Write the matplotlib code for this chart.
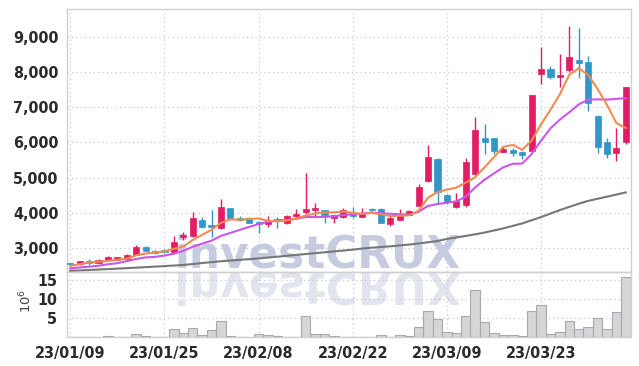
import numpy as np
import matplotlib
matplotlib.use("Agg")
import matplotlib.pyplot as plt
from matplotlib import font_manager
from matplotlib.textpath import TextPath
from matplotlib.patches import PathPatch
from matplotlib.transforms import Affine2D
from matplotlib.font_manager import FontProperties

# trading days (yy/mm/dd)
dates = ["23/01/09", "23/01/10", "23/01/11", "23/01/12", "23/01/13", "23/01/16", "23/01/17", "23/01/18",
         "23/01/19", "23/01/20", "23/01/25", "23/01/26", "23/01/27", "23/01/30", "23/01/31", "23/02/01",
         "23/02/02", "23/02/03", "23/02/06", "23/02/07", "23/02/08", "23/02/09", "23/02/10", "23/02/13",
         "23/02/14", "23/02/15", "23/02/16", "23/02/17", "23/02/20", "23/02/21", "23/02/22", "23/02/23",
         "23/02/24", "23/02/27", "23/02/28", "23/03/02", "23/03/03", "23/03/06", "23/03/07", "23/03/08",
         "23/03/09", "23/03/10", "23/03/13", "23/03/14", "23/03/15", "23/03/16", "23/03/17", "23/03/20",
         "23/03/21", "23/03/22", "23/03/23", "23/03/24", "23/03/27", "23/03/28", "23/03/29", "23/03/30",
         "23/03/31", "23/04/03", "23/04/04", "23/04/05"]
tick_dates = ["23/01/09", "23/01/25", "23/02/08", "23/02/22", "23/03/09", "23/03/23"]

opens = [2550, 2540, 2630, 2580, 2650, 2660, 2700, 2800, 3020, 2930,
         2950, 2900, 3310, 3340, 3800, 3650, 3570, 4130, 3840, 3840,
         3750, 3690, 3810, 3700, 3920, 4020, 4080, 4080, 3850, 3890,
         4030, 3890, 4100, 4120, 3680, 3800, 3940, 4200, 4910, 5530,
         4500, 4160, 4220, 5110, 6120, 6120, 5740, 5790, 5740, 5770,
         7940, 8080, 7870, 8060, 8340, 8290, 6750, 6000, 5690, 6020]
highs = [2570, 2640, 2690, 2690, 2770, 2760, 2830, 3080, 3060, 2940,
         2970, 3350, 3450, 4020, 3870, 4080, 4390, 4140, 3900, 3870,
         3760, 3920, 3870, 3950, 4120, 5140, 4290, 4090, 3950, 4130,
         4170, 4140, 4150, 4130, 3900, 4100, 4090, 4820, 5930, 5550,
         4540, 4560, 5550, 6720, 6520, 6130, 5900, 5830, 5760, 7360,
         8720, 8180, 8510, 9320, 9250, 8460, 6780, 6120, 6400, 7580]
lows = [2530, 2530, 2520, 2570, 2640, 2650, 2690, 2790, 2910, 2820,
        2860, 2880, 3230, 3320, 3580, 3300, 3540, 3840, 3760, 3700,
        3420, 3590, 3560, 3690, 3840, 3980, 3890, 3700, 3720, 3840,
        3860, 3880, 4060, 3700, 3620, 3790, 3930, 4190, 4890, 4290,
        4260, 4150, 4170, 5080, 5660, 5660, 5730, 5610, 5520, 5760,
        7660, 7810, 7580, 7990, 7830, 6880, 5690, 5550, 5470, 5950]
closes = [2540, 2630, 2570, 2660, 2740, 2735, 2800, 3030, 2920, 2870,
          2900, 3170, 3360, 3840, 3610, 3610, 4160, 3850, 3790, 3720,
          3690, 3810, 3790, 3920, 3975, 4110, 4130, 3930, 3930, 4090,
          3920, 3985, 4080, 3720, 3840, 3960, 4050, 4740, 5590, 4600,
          4320, 4340, 5440, 6350, 6020, 5770, 5800, 5710, 5650, 7340,
          8080, 7860, 7910, 8420, 8270, 7110, 5880, 5660, 5830, 7570]
# volume in millions of shares
volumes = [0.05, 0.05, 0.05, 0.1, 0.3, 0.05, 0.1, 0.8, 0.35, 0.1,
           0.1, 2.1, 1.2, 2.4, 0.6, 1.9, 4.3, 0.3, 0.1, 0.2,
           0.8, 0.5, 0.3, 0.2, 0.2, 5.6, 0.8, 0.8, 0.3, 0.2,
           0.2, 0.2, 0.2, 0.5, 0.2, 0.5, 0.3, 2.7, 7.0, 4.8,
           1.3, 1.1, 5.6, 12.5, 4.0, 1.1, 0.5, 0.5, 0.3, 7.0,
           8.6, 0.8, 1.3, 4.3, 2.1, 2.7, 5.0, 2.1, 6.6, 15.8]
ma5 = [2490, 2545, 2585, 2615, 2635, 2667, 2701, 2793, 2845, 2871,
       2904, 2978, 3044, 3228, 3376, 3518, 3716, 3814, 3804, 3826,
       3842, 3772, 3760, 3786, 3837, 3921, 3985, 4013, 4015, 4038,
       4000, 3971, 4001, 3959, 3909, 3917, 3930, 4062, 4436, 4588,
       4660, 4718, 4858, 5010, 5294, 5584, 5876, 5930, 5790, 6054,
       6516, 6928, 7368, 7922, 8108, 7914, 7518, 7068, 6550, 6410]
ma10 = [2420, 2450, 2470, 2500, 2540, 2570, 2630, 2690, 2735, 2750,
        2786, 2840, 2919, 3037, 3124, 3211, 3347, 3429, 3516, 3601,
        3680, 3744, 3787, 3795, 3832, 3882, 3879, 3887, 3901, 3938,
        3961, 3978, 4007, 3987, 3974, 3959, 3951, 4032, 4198, 4249,
        4289, 4324, 4460, 4723, 4941, 5122, 5297, 5394, 5400, 5674,
        6050, 6402, 6649, 6856, 7081, 7215, 7223, 7218, 7236, 7259]
ma60 = [2355, 2365, 2378, 2390, 2403, 2416, 2430, 2444, 2458, 2473,
        2488, 2503, 2520, 2545, 2575, 2600, 2625, 2645, 2665, 2685,
        2705, 2730, 2755, 2780, 2805, 2830, 2855, 2880, 2905, 2930,
        2955, 2985, 3010, 3030, 3050, 3075, 3100, 3130, 3165, 3200,
        3260, 3300, 3345, 3390, 3440, 3500, 3560, 3630, 3700, 3790,
        3880, 3980, 4080, 4170, 4260, 4340, 4400, 4460, 4520, 4580]

UP = "#e31c64"
DOWN = "#3296c8"
GRID = "#c5c9dc"
SPINE = "#d0d0d0"
TXT = "#2b2b2b"


def find_narrow_bold():
    # look for any installed condensed / narrow bold face
    narrow = []
    for f in font_manager.fontManager.ttflist:
        st = str(f.stretch).lower()
        if "condensed" in st or "narrow" in st or "Condensed" in f.name or "Narrow" in f.name:
            if str(f.weight).lower() in ("bold", "700", "600", "semibold", "demibold", "800", "heavy"):
                narrow.append(f)
    for pref in ("DejaVu", "Liberation", "Noto Sans", "Roboto", "Open Sans", ""):
        for f in narrow:
            if f.name.startswith(pref):
                return f.fname
    return None


narrow_file = find_narrow_bold()
if narrow_file:
    tick_prop = FontProperties(fname=narrow_file, size=11.5)
else:
    tick_prop = FontProperties(family="DejaVu Sans", weight="bold", size=10)

W, H = 639, 366
fig = plt.figure(figsize=(W / 100, H / 100), dpi=100, facecolor="white")

x0, x1 = 67, 631
ax = fig.add_axes([x0 / W, 1 - 272 / H, (x1 - x0) / W, (272 - 9) / H])
axv = fig.add_axes([x0 / W, 1 - 337.3 / H, (x1 - x0) / W, (337.3 - 272) / H], sharex=ax)
for a in (ax, axv):
    a.set_facecolor("none")
    for s in a.spines.values():
        s.set_color(SPINE)
        s.set_linewidth(1.0)

# watermark "investCRUX" (real text) with its mirrored reflection below
wm_prop = FontProperties(family="DejaVu Sans", weight="bold")
tp = TextPath((0, 0), "investCRUX", size=100, prop=wm_prop)
bb = tp.get_extents()
scale = (460 - 178) / bb.width
fig.text((178 - bb.x0 * scale) / W, (H - 268) / H, "investCRUX", fontproperties=wm_prop,
         fontsize=100 * scale * 72 / 100, color="#c6cbe0", ha="left", va="baseline", zorder=-5)
wm_ref = PathPatch(tp, facecolor="#e2e4ee", edgecolor="none", zorder=-5,
                   transform=Affine2D().scale(scale, -scale).translate(178 - bb.x0 * scale, H - 273))
fig.add_artist(wm_ref)

idx = np.arange(len(closes))
o = np.array(opens)
c = np.array(closes)
up = c >= o
colors = np.where(up, UP, DOWN)

ax.vlines(idx, lows, highs, colors=colors, linewidth=1.0, zorder=3)
ax.bar(idx, np.maximum(np.abs(c - o), 25), bottom=np.minimum(o, c), width=0.65,
       color=colors, edgecolor=colors, linewidth=0.5, zorder=4)

ax.plot(idx, ma60, color="#777777", linewidth=1.5, zorder=5)
ax.plot(idx, ma10, color="#cc55ee", linewidth=1.5, zorder=5)
ax.plot(idx, ma5, color="#f08c50", linewidth=1.5, zorder=6)

ax.set_ylim(2320, 9790)
ax.set_yticks([3000, 4000, 5000, 6000, 7000, 8000, 9000])
ax.set_yticklabels([f"{v:,}" for v in [3000, 4000, 5000, 6000, 7000, 8000, 9000]])
ax.grid(True, linestyle=(0, (1, 2.5)), color=GRID, linewidth=0.9)
ax.tick_params(axis="both", length=0)
ax.tick_params(axis="x", labelbottom=False)
ax.tick_params(axis="y", pad=6)

axv.bar(idx, volumes, width=1.0, color="#d6d6d8", edgecolor="#a9a9ad", linewidth=0.8, zorder=3)
axv.set_ylim(0, 17.2)
axv.set_yticks([5, 10, 15])
axv.grid(True, linestyle=(0, (1, 2.5)), color=GRID, linewidth=0.9)
axv.tick_params(axis="both", length=0)
axv.tick_params(axis="y", pad=7)
axv.tick_params(axis="x", pad=6)

tick_pos = [dates.index(d) for d in tick_dates]
axv.set_xticks(tick_pos)
axv.set_xticklabels(tick_dates)
axv.set_xlim(-0.35, len(closes) - 0.45)

for lab in ax.get_yticklabels() + axv.get_yticklabels() + axv.get_xticklabels():
    lab.set_fontproperties(tick_prop)
    lab.set_color(TXT)

fig.text(26 / W, 1 - 301 / H, "$10^6$", rotation=90, ha="center", va="center",
         fontsize=9.5, color="#444444")

fig.savefig("out.png", dpi=100, facecolor="white")
